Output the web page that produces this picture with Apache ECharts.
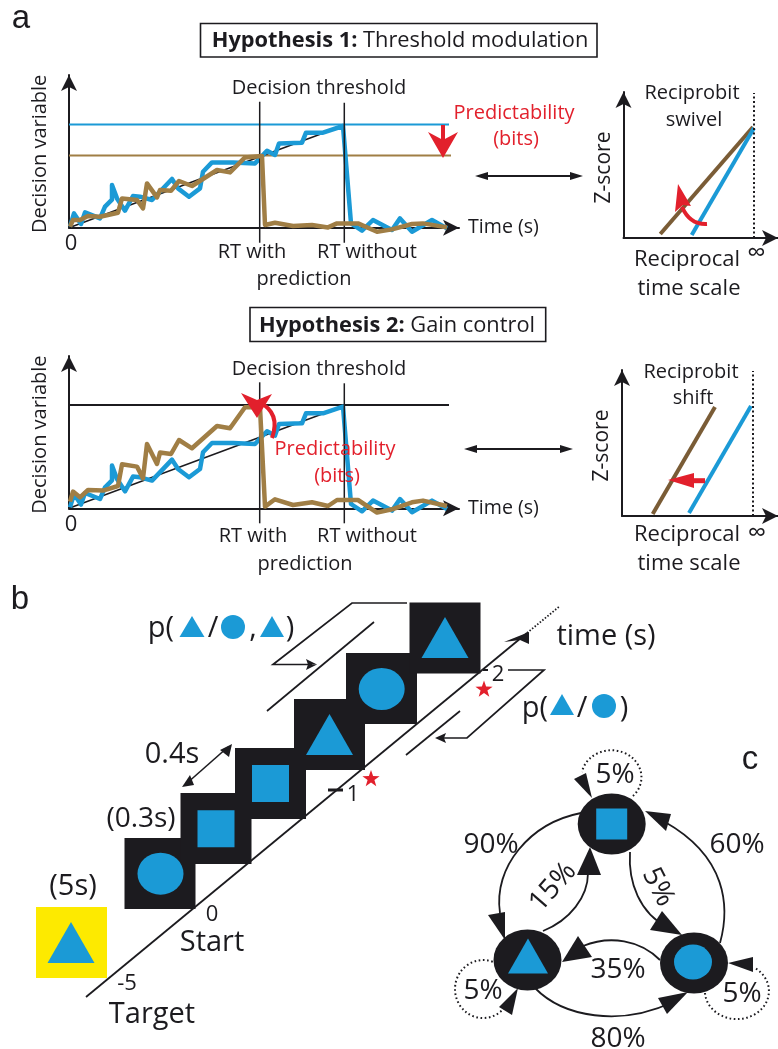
<!DOCTYPE html>
<html><head><meta charset="utf-8">
<style>html,body{margin:0;padding:0;background:#fff}#c{width:778px;height:1049px}</style>
<script src="https://cdn.jsdelivr.net/npm/echarts@6/dist/echarts.min.js"></script>
</head><body><div id="c"></div>
<script>
// ---------- data ----------
const blueTrace = [[1,1],[5,14.3],[12,3.7],[16,15.3],[31,9.3],[36,21],[43,28],[43,42.7],[48,29.3],[56,17],[64,31.7],[71,31],[83,27.7],[103,48.7],[109,39.3],[120,31],[131,39.3],[134,56],[143,65.3],[164,65.3],[186,64.3],[198,77],[206,72.7],[210,84.3],[233,85],[237,95],[254,95],[274,101.7],[282,4.3],[293,-3],[304,7.7],[323,-2.3],[331,9.3],[343,-4],[363,7.7],[378,-0.7]];
const brownTraceH1 = [[1,1],[4,7.7],[11,7.7],[19,11.7],[31,11],[49,15],[53,29.3],[68,27.7],[74,19.3],[78,44.3],[88,30.3],[91,37.7],[102,37],[110,46.7],[123,41.7],[148,57.7],[161,55.3],[176,70.3],[193,71.7],[196,2.7],[206,5],[224,1.7],[243,2.7],[259,0.3],[268,4.3],[289,4.3],[308,-4],[323,-1.7],[343,3.7],[354,4.3],[378,0.3]];
const brownTraceH2 = [[1,6.7],[4,16.7],[11,11],[19,18.3],[34,17.7],[49,22.3],[53,44],[68,41.7],[74,30],[78,64.3],[88,44.3],[91,55.7],[102,54.3],[110,68.3],[123,60],[148,82.3],[161,80],[176,101],[191,101],[196,1.7],[206,9],[224,3.3],[243,6],[259,2.3],[268,8.3],[289,8.3],[308,-4.3],[323,-1],[343,6],[354,7.7],[378,2.3]];
const ramp = [[0,0],[274,102]];
const blueThreshold = [[0,103.3],[380,103.3]];
const brownThreshold = [[0,72.3],[382,72.3]];
const blackThreshold = [[0,103.3],[380,103.3]];
const rtWith = [[190.7,-15],[190.7,126]];
const rtWithout = [[275.3,-15],[275.3,125]];
const swivelBrown = [[36.8,4],[129.5,111]];
const swivelBlue = [[68.2,3],[130.5,110]];
const swivelLimit = [[130.5,0],[130.5,145]];
const shiftBrown = [[30.7,2],[93,109]];
const shiftBlue = [[67,3],[129,110]];
const shiftLimit = [[131,0],[131,145]];
const stimulusShapes = ['circle','rect','rect','triangle','circle','triangle'];
const stimulusX = [160.5,216,270.5,329.5,381.7,445];
const stimulusY = [873.7,828.7,783.4,734.5,689,637.5];
const boxX = [160,216,270.5,329.5,381.5,445];
const boxY = [873.5,828.5,783.5,734.5,688.5,638];
const nodeShapes = ['rect','triangle','circle'];
const nodeX = [611.7,527.5,694];
const nodeY = [824,960,963];
const glyphX = [611.7,528,693];
const glyphY = [824,956,962];
// ---------- styling ----------
const FONT = '"Open Sans"', K='#1c1b1f', BLUE='#1b9ad6', BROWN='#a07e45', DK='#7a5c36', RED='#e2202c';
const chart = echarts.init(document.getElementById('c'),null,{renderer:'canvas'});
const line=(data,color,width,g,extra)=>Object.assign({type:'line',data,xAxisIndex:g,yAxisIndex:g,symbol:'none',clip:false,animation:false,silent:true,lineStyle:{color,width,join:'round',cap:'butt'}},extra||{});
const axisStyle={color:K,width:2};
function pair(left,top,w,h,xMax,yMax,tick,tickSize,tickMargin,xName,yName,yGap,ySize){
  return {
   grid:{left,top,width:w,height:h,containLabel:false},
   x:{type:'value',gridIndex:0,min:0,max:xMax,splitLine:{show:false},axisTick:{show:false},
      axisLine:{lineStyle:axisStyle,symbol:['none','arrow'],symbolSize:[12,16]},
      axisLabel:{customValues:[tick[0]],formatter:()=>tick[1],fontFamily:FONT,fontSize:tickSize,color:K,margin:tickMargin},
      name:xName,nameLocation:'end',nameGap:9,nameTextStyle:{fontFamily:FONT,fontSize:19.6,color:K}},
   y:{type:'value',gridIndex:0,min:0,max:yMax,splitLine:{show:false},axisTick:{show:false},axisLabel:{show:false},
      axisLine:{lineStyle:axisStyle,symbol:['none','arrow'],symbolSize:[12,16]},
      name:yName,nameLocation:'middle',nameRotate:90,nameGap:yGap,nameTextStyle:{fontFamily:FONT,fontSize:ySize,color:K,padding:[0,5,0,0]}}
  };
}
const panels=[
 pair(69,75,390,152.7,390,152.7,[2,'0'],22,5,'Time (s)','Decision variable',19,20),
 pair(69,356,390,152.3,390,152.3,[2,'0'],22,5,'Time (s)','Decision variable',19,20),
 pair(623.5,92,154.5,146,154.5,146,[133,'∞'],26,3,'','Z-score',9,21),
 pair(622,370,156,146,156,146,[135,'∞'],26,5,'','Z-score',9,21)
];
const grids=panels.map(p=>p.grid), xAxes=panels.map((p,i)=>Object.assign({},p.x,{gridIndex:i})), yAxes=panels.map((p,i)=>Object.assign({},p.y,{gridIndex:i}));
// hidden page-scaled grid for the stimulus sequence and the transition graph
grids.push({left:0,top:0,width:778,height:1049});
xAxes.push({type:'value',gridIndex:4,min:0,max:778,show:false});
yAxes.push({type:'value',gridIndex:4,min:0,max:1049,inverse:true,show:false});
const mark=(xs,ys,shapes,size,color,z)=>({type:'scatter',xAxisIndex:4,yAxisIndex:4,animation:false,silent:true,z,
  data:xs.map((x,i)=>[x,ys[i]]),symbol:(v,p)=>shapes[p.dataIndex],symbolSize:(v,p)=>size[shapes[p.dataIndex]],itemStyle:{color,opacity:1}});
// ---------- annotations ----------
const g=[], back=[], front=[];
const T=(x,y,text,size,opt)=>{opt=opt||{};const dy=(opt.family||opt.rot)?0:(size>25?2:1);g.push({type:'text',x,y:y+dy,rotation:opt.rot||0,z:20,silent:true,style:{text,fill:opt.color||K,font:(opt.weight?opt.weight+' ':'')+size+'px '+(opt.family||FONT),align:opt.align||'center',verticalAlign:'middle',rich:opt.rich}});};
const P=(d,stroke,w,fill,dash,layer)=>(layer==='back'?back:front).push({type:'path',shape:{pathData:d},style:{stroke:stroke||'none',lineWidth:w||0,fill:fill||'none',lineDash:dash||null}});
const tri=(a,b,c,col)=>P(`M${a[0]} ${a[1]}L${b[0]} ${b[1]}L${c[0]} ${c[1]}Z`,null,0,col||K);
const disc=(cx,cy,r)=>front.push({type:'circle',shape:{cx,cy,r},style:{fill:BLUE}});
const LAB='Liberation Sans', TS=20, BS=29, CS=28;
T(21,19,'a',33,{family:LAB}); T(20,600,'b',33,{family:LAB}); T(750,760,'c',33,{family:LAB});
// title boxes
P('M200.5 23.5H597V57H200.5Z',K,1.6,'#fff');
P('M250 307.5H545.7V341.5H250Z',K,1.6,'#fff');
const titleRich={b:{fontFamily:FONT,fontWeight:'bold',fontSize:21.8,color:K},n:{fontFamily:FONT,fontSize:21.8,color:K}};
T(400,40,'{b|Hypothesis 1:} {n|Threshold modulation}',21.8,{rich:titleRich});
T(397,324.5,'{b|Hypothesis 2:} {n|Gain control}',21.8,{rich:titleRich});
// panel a texts
[[87,251,278],[368,535,563]].forEach((r,i)=>{
 T(319,r[0],'Decision threshold',TS);
 T(252+i,r[1],'RT with',TS); T(367,r[1],'RT without',TS); T(304+i,r[2],'prediction',TS);
});
T(514,112,'Predictability',TS,{color:RED}); T(516,138,'(bits)',TS,{color:RED});
T(335,448,'Predictability',TS,{color:RED}); T(337,475,'(bits)',TS,{color:RED});
T(692,92,'Reciprobit',20); T(694,119,'swivel',20); T(691,371,'Reciprobit',20); T(693,397,'shift',20);
[[259,288],[534,563]].forEach(r=>{T(687,r[0],'Reciprocal',22);T(689,r[1],'time scale',22);});
// double arrows
const dbl=(x1,x2,y)=>{P(`M${x1+6} ${y}H${x2-6}`,K,1.8);tri([x1,y],[x1+13,y-4],[x1+13,y+4]);tri([x2,y],[x2-13,y-4],[x2-13,y+4]);};
dbl(475,583,176); dbl(464,573,449);
// red arrows
P('M443 125V142',RED,4);
P(`M443 158L428 132L443 140L458 132Z`,null,0,RED);
P('M272 438Q281 413 259 402',RED,4);
P('M257 418L241 393L257 400L272 394Z',null,0,RED);
P('M707 224Q690 225 682 207',RED,4);
P('M678 184L675 212L683 205L691 206Z',null,0,RED);
P('M705 480.7H690',RED,5);
P('M668 480L694 473L694 488Z',null,0,RED);
// panel b: timeline
P('M36 907H107V978H36Z',null,0,'#fdea00',null,'back');
P('M86 997L527 633',K,1.8,null,null,'back');
P('M527 633L560 606',K,1.8,null,[1.5,1.8]);
P('M504 642L529 632L529 644L520 640Z',null,0,K);
P('M407 603H352L273 664.5H312',K,1.7);
tri([317,664.5],[306,659],[308,664.5]);tri([317,664.5],[306,670],[308,664.5]);
P('M267 711L374 622',K,1.7);
P('M406 755L460 711',K,1.7);
P('M508 670H544L467 738H440',K,1.7);
tri([435,738],[446,733],[444,738]);tri([435,738],[446,743],[444,738]);
P('M186 784L228 747',K,1.6);
tri([182,787],[190,775],[194,785]);tri([232,744],[220,750],[229,757]);
P('M328 790H343',K,3);P('M483 670H488',K,2);
const starPath=(cx,cy,R)=>{let d='';for(let i=0;i<10;i++){const r=i%2?R*0.4:R,a=-Math.PI/2+i*Math.PI/5;d+=(i?'L':'M')+(cx+r*Math.cos(a)).toFixed(1)+' '+(cy+r*Math.sin(a)).toFixed(1);}return d+'Z';};
P(starPath(371,779,9),null,0,RED); P(starPath(484,689.5,9),null,0,RED);
T(353,794,'1',22);T(498,674,'2',22);T(212,914,'0',22);T(127,983,'-5',22);
T(212,941,'Start',BS);T(152,1013,'Target',BS);T(606,635,'time (s)',BS);
T(172,753,'0.4s',BS);T(141,817,'(0.3s)',BS-1);T(73,885,'(5s)',BS);
// p(...) labels with inline glyphs
T(161,627,'p(',BS);T(213,627,'/',BS);T(253,627,',',BS);T(290,627,')',BS);
tri([192,616],[179.5,637],[204.5,637],BLUE); disc(233,627,12); tri([272,616],[260,637],[284,637],BLUE);
T(535,707,'p(',BS);T(582,707,'/',BS);T(624,707,')',BS);
tri([562,694],[550,715],[574,715],BLUE); disc(604,706,12);
// panel c: transition graph
const DOT=[1.6,2.6];
P('M633 796A30 27 0 1 0 582 772',K,2,null,DOT);
P('M500 966A28 29 0 1 0 505 1007',K,2,null,DOT);
P('M705 993A32 28 0 1 0 755 968',K,2,null,DOT);
tri([592,798],[574,779],[586,773]); tri([518,988],[499,1007],[512,1015]); tri([728,963],[753,957],[753,972]);
P('M581 813C530 823 493 867 500 913',K,1.8);  tri([505,940],[488,915],[505,912]);
P('M543 931C570 920 588 897 588 873',K,1.8);  tri([590,847],[577,875],[601,875]);
P('M720 943C730 907 727 857 665 822',K,1.8);  tri([645,811],[671,814],[666,831]);
P('M630 852C628 883 640 913 667 927',K,1.8);  tri([682,935],[662,911],[650,930]);
P('M660 960C640 940 610 935 583 946',K,1.8);  tri([562,962],[578,936],[592,957]);
P('M535 988C563 1017 620 1027 673 1002',K,1.8); tri([688,992],[658,998],[667,1014]);
T(615,773,'5%',CS);T(483,989,'5%',CS);T(742,992,'5%',CS);
T(491,843,'90%',CS);T(737,843,'60%',CS);T(618,968,'35%',CS);T(618,1037,'80%',CS);
T(553,887,'15%',CS,{rot:0.85});T(658,887,'5%',CS,{rot:-1.1});
const overlay=(children,z)=>({type:'custom',xAxisIndex:4,yAxisIndex:4,coordinateSystem:'cartesian2d',z,silent:true,animation:false,clip:false,data:[[0,0]],
  renderItem:()=>({type:'group',children})});
const TW=4.5;
const series=[
 overlay(back,1),
 line(blueThreshold,BLUE,2,0), line(brownThreshold,BROWN,2,0), line(ramp,K,1.5,0),
 line(blueTrace,BLUE,TW,0), line(rtWith,K,1.5,0), line(rtWithout,K,1.5,0), line(brownTraceH1,BROWN,TW,0),
 line(blackThreshold,K,2,1), line(ramp,K,1.5,1),
 line(blueTrace,BLUE,TW,1), line(rtWith,K,1.5,1), line(rtWithout,K,1.5,1), line(brownTraceH2,BROWN,TW,1),
 line(swivelBrown,DK,4,2), line(swivelBlue,BLUE,4,2), line(swivelLimit,K,2,2,{lineStyle:{color:K,width:2,type:[2,2.5]}}),
 line(shiftBrown,DK,4,3), line(shiftBlue,BLUE,4,3), line(shiftLimit,K,2,3,{lineStyle:{color:K,width:2,type:[2,2.5]}}),
 mark(boxX,boxY,stimulusShapes.map(()=>'rect'),{rect:71},K,3),
 mark(stimulusX,stimulusY,stimulusShapes,{circle:[46,42],rect:37,triangle:[47,41]},BLUE,4),
 mark(nodeX,nodeY,nodeShapes.map(()=>'circle'),{circle:[68,61]},K,3),
 mark(glyphX,glyphY,nodeShapes,{rect:31,triangle:[40,35],circle:[38,35]},BLUE,4),
 mark([71],[942.5],['triangle'],{triangle:[47,41]},BLUE,4),
 overlay(front,10)
];
chart.setOption({animation:false,backgroundColor:'#fff',grid:grids,xAxis:xAxes,yAxis:yAxes,series,graphic:{elements:g}});
</script></body></html>
